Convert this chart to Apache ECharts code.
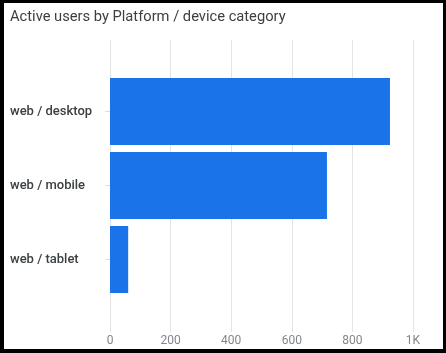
<!DOCTYPE html>
<html>
<head>
<meta charset="utf-8">
<script src="https://cdn.jsdelivr.net/npm/echarts@6.0.0/dist/echarts.min.js"></script>
<style>
  html, body { margin: 0; padding: 0; background: #000; }
  #frame { position: relative; width: 446px; height: 353px; background: #000; }
  #chart { position: absolute; left: 4px; top: 3px; width: 439px; height: 346px; background: #fff; }
</style>
</head>
<body>
<div id="frame"><div id="chart"></div></div>
<script>
const categories = ['web / desktop', 'web / mobile', 'web / tablet'];
const activeUsers = [924, 716, 60];
const tickValues = [0, 200, 400, 600, 800, 1000];

const blue = '#1a73e8';
const font = 'Roboto, sans-serif';

const chart = echarts.init(document.getElementById('chart'));
chart.setOption({
  animation: false,
  title: {
    text: 'Active users by Platform / device category',
    left: 6,
    top: 7,
    padding: 0,
    textStyle: { fontFamily: font, fontSize: 14.7, fontWeight: 'normal', color: '#3c4043' },
  },
  grid: [
    { left: 106, top: 37, width: 303, height: 292 },
    { left: 106, top: 71.5, width: 303, height: 222 },
  ],
  xAxis: [
    {
      gridIndex: 0,
      type: 'value',
      min: tickValues[0],
      max: tickValues[tickValues.length - 1],
      interval: 200,
      axisLine: { show: false },
      axisTick: { show: false },
      splitLine: { lineStyle: { color: '#e3e3e3', width: 1 } },
      axisLabel: {
        margin: 3,
        fontFamily: font,
        fontSize: 12,
        color: '#80868b',
        formatter: (v) => (v >= 1000 ? v / 1000 + 'K' : String(v)),
      },
    },
    {
      gridIndex: 1,
      type: 'value',
      min: tickValues[0],
      max: tickValues[tickValues.length - 1],
      show: false,
    },
  ],
  yAxis: [
    {
      gridIndex: 0,
      type: 'value',
      show: false,
    },
    {
      gridIndex: 1,
      type: 'category',
      inverse: true,
      data: categories,
      axisLine: { show: false },
      axisTick: { show: true, length: 5, alignWithLabel: true, lineStyle: { color: '#dadce0' } },
      axisLabel: {
        margin: 100,
        align: 'left',
        fontFamily: font,
        fontSize: 13,
        fontWeight: 500,
        color: '#3c4043',
      },
    },
  ],
  series: [
    {
      type: 'bar',
      xAxisIndex: 1,
      yAxisIndex: 1,
      data: activeUsers,
      barWidth: 67,
      itemStyle: { color: blue },
    },
  ],
});
</script>
</body>
</html>
